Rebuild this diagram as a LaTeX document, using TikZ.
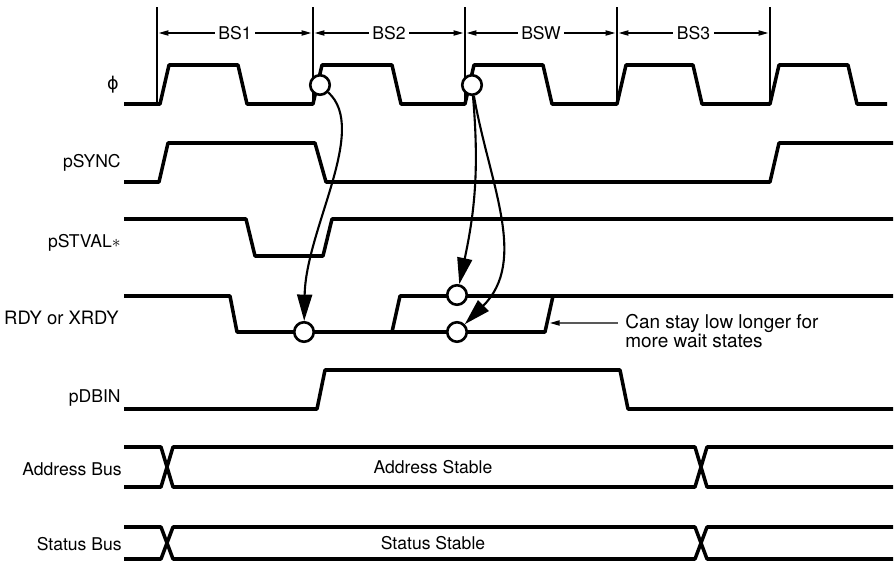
\documentclass[tikz,border=0pt]{standalone}
\usepackage{fontspec}
\setmainfont{TeX Gyre Heros}
\newfontfamily\symfont{DejaVu Sans}
\usetikzlibrary{arrows.meta}
\tikzset{
	wave/.style={line width=2pt, line join=round},
	guide/.style={line width=0.7pt},
	span/.style={guide, {Triangle[length=5.5pt,width=3pt]}-{Triangle[length=5.5pt,width=3pt]}, shorten <=1pt, shorten >=1pt},
	tag/.style={anchor=east, inner sep=0pt},
	probe/.style={circle, draw, fill=white, line width=1.5pt, minimum size=0.39cm, inner sep=0pt},
	cause/.style={line width=1.2pt, -{Triangle[length=15pt,width=8.5pt]}},
}

\begin{document}
\begin{tikzpicture}[x=0.02cm, y=-0.02cm]
	\useasboundingbox (0,0) rectangle (894,561);
	% bus state boundaries
	\coordinate (t1) at (157,33);
	\coordinate (t2) at (313,33);
	\coordinate (t3) at (465,33);
	\coordinate (t4) at (617,33);
	\coordinate (t5) at (770,33);
	\draw[guide] (157,7) -- (157,104);
	\draw[guide] (313,7) -- (313,104);
	\draw[guide] (465,7) -- (465,104);
	\draw[guide] (617,7) -- (617,104);
	\draw[guide] (770,7) -- (770,104);
	\draw[span] (t1) -- (t2) node[midway, fill=white, inner xsep=2pt, inner ysep=1pt] (bs1) {BS1};
	\draw[span] (t2) -- (t3) node[midway, fill=white, inner xsep=2pt, inner ysep=1pt] (bs2) {BS2};
	\draw[span] (t3) -- (t4) node[midway, fill=white, inner xsep=2pt, inner ysep=1pt] (bsw) {BSW};
	\draw[span] (t4) -- (t5) node[midway, fill=white, inner xsep=2pt, inner ysep=1pt] (bs3) {BS3};

	\node[tag] (lphi) at (119,85) {\symfont ϕ};
	\node[tag] (lsync) at (121,163) {pSYNC};
	\node[tag] (lstval) at (121,243) {pSTVAL$\ast$};
	\node[tag, font=\fontsize{10.5}{12.5}\selectfont] (lrdy) at (119,318) {RDY or XRDY};
	\node[tag] (ldbin) at (121,398) {pDBIN};
	\node[tag] (ladr) at (122,469) {Address Bus};
	\node[tag] (lsts) at (122,544) {Status Bus};

	\draw[wave] (124,104) -- (160,104) -- (169,65) -- (238,65) -- (247,104) -- (313,104) -- (322,65) -- (392,65) -- (401,104) -- (465,104) -- (474,65) -- (543,65) -- (552,104) -- (617,104) -- (626,65) -- (693,65) -- (702,104) -- (770,104) -- (779,65) -- (848,65) -- (857,104) -- (887,104);
	\draw[wave] (124,182) -- (159,182) -- (168,143) -- (315,143) -- (326,182) -- (770,182) -- (779,143) -- (893,143);
	\draw[wave] (124,219) -- (246,219) -- (255,256) -- (323,256) -- (332,219) -- (893,219);
	\draw[wave] (124,296) -- (230,296) -- (237,332) -- (392,332) -- (400,296) -- (893,296);
	\draw[wave] (392,332) -- (545,332) -- (553,296);
	\draw[wave] (124,409) -- (317,409) -- (325,370) -- (620,370) -- (628,409) -- (893,409);
	\draw[wave] (124,447) -- (161,447) -- (173,487) -- (695,487) -- (707,447) -- (893,447);
	\draw[wave] (124,487) -- (161,487) -- (173,447) -- (695,447) -- (707,487) -- (893,487);
	\draw[wave] (124,527) -- (161,527) -- (173,559) -- (695,559) -- (707,527) -- (893,527);
	\draw[wave] (124,559) -- (161,559) -- (173,527) -- (695,527) -- (707,559) -- (893,559);

	\node (adr) at (433,467) {Address Stable};
	\node (sts) at (433,543) {Status Stable};

	\node[probe] (ph1) at (320,85) {};
	\node[probe] (ph2) at (472,85) {};
	\node[probe] (rd1) at (304,332) {};
	\node[probe] (rd2) at (457,295) {};
	\node[probe] (rd3) at (457,332) {};
	\draw[cause] (ph1) to[out=-42, in=89, out distance=1.1cm, in distance=1.84cm] (rd1);
	\draw[cause] (ph2) to[out=-85, in=78] (rd2);
	\draw[cause] (ph2) to[out=-80, in=45, in distance=1.8cm] (rd3);

	\node[anchor=base west, inner sep=0pt, font=\fontsize{10.8}{13}\selectfont] (note1) at (625,328) {Can stay low longer for};
	\node[anchor=base west, inner sep=0pt, font=\fontsize{10.8}{13}\selectfont] (note2) at (625,347) {more wait states};
	\coordinate (lowend) at (550,323);
	\draw[guide, -{Triangle[length=5.5pt,width=3pt]}, shorten <=4pt] (note1.west) -- (lowend);
\end{tikzpicture}
\end{document}
